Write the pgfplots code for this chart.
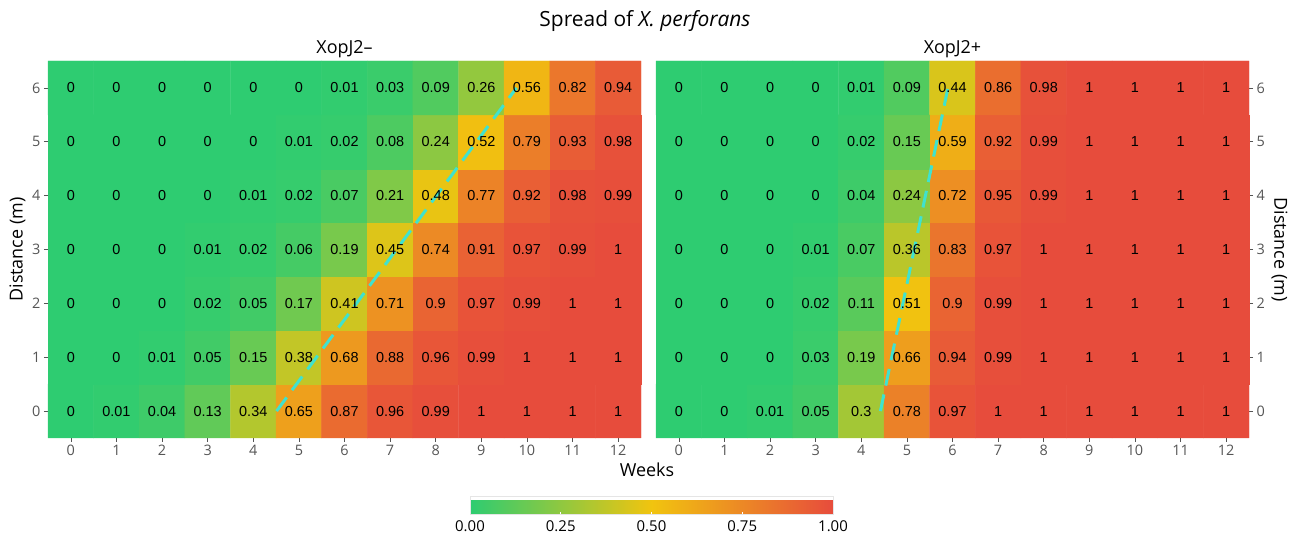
\documentclass[border=0pt]{standalone}
\usepackage{fontspec}
\setmainfont{Open Sans}
\newfontfamily\cellfont{Liberation Sans}
\usepackage{pgfplots}
\pgfplotsset{compat=1.18}
\usepackage{pgfplotstable}
\usetikzlibrary{calc}

\definecolor{tickgray}{RGB}{85,85,85}
\definecolor{trend}{RGB}{64,226,206}

% Proportion infected, XopJ2- strain (x = week, y = distance in m)
\pgfplotstableread[row sep=\\]{
x y v\\
0 0 0\\ 1 0 0.01\\ 2 0 0.04\\ 3 0 0.13\\ 4 0 0.34\\ 5 0 0.65\\ 6 0 0.87\\ 7 0 0.96\\ 8 0 0.99\\ 9 0 1\\ 10 0 1\\ 11 0 1\\ 12 0 1\\
0 1 0\\ 1 1 0\\ 2 1 0.01\\ 3 1 0.05\\ 4 1 0.15\\ 5 1 0.38\\ 6 1 0.68\\ 7 1 0.88\\ 8 1 0.96\\ 9 1 0.99\\ 10 1 1\\ 11 1 1\\ 12 1 1\\
0 2 0\\ 1 2 0\\ 2 2 0\\ 3 2 0.02\\ 4 2 0.05\\ 5 2 0.17\\ 6 2 0.41\\ 7 2 0.71\\ 8 2 0.9\\ 9 2 0.97\\ 10 2 0.99\\ 11 2 1\\ 12 2 1\\
0 3 0\\ 1 3 0\\ 2 3 0\\ 3 3 0.01\\ 4 3 0.02\\ 5 3 0.06\\ 6 3 0.19\\ 7 3 0.45\\ 8 3 0.74\\ 9 3 0.91\\ 10 3 0.97\\ 11 3 0.99\\ 12 3 1\\
0 4 0\\ 1 4 0\\ 2 4 0\\ 3 4 0\\ 4 4 0.01\\ 5 4 0.02\\ 6 4 0.07\\ 7 4 0.21\\ 8 4 0.48\\ 9 4 0.77\\ 10 4 0.92\\ 11 4 0.98\\ 12 4 0.99\\
0 5 0\\ 1 5 0\\ 2 5 0\\ 3 5 0\\ 4 5 0\\ 5 5 0.01\\ 6 5 0.02\\ 7 5 0.08\\ 8 5 0.24\\ 9 5 0.52\\ 10 5 0.79\\ 11 5 0.93\\ 12 5 0.98\\
0 6 0\\ 1 6 0\\ 2 6 0\\ 3 6 0\\ 4 6 0\\ 5 6 0\\ 6 6 0.01\\ 7 6 0.03\\ 8 6 0.09\\ 9 6 0.26\\ 10 6 0.56\\ 11 6 0.82\\ 12 6 0.94\\
}\minustable

% Proportion infected, XopJ2+ strain
\pgfplotstableread[row sep=\\]{
x y v\\
0 0 0\\ 1 0 0\\ 2 0 0.01\\ 3 0 0.05\\ 4 0 0.3\\ 5 0 0.78\\ 6 0 0.97\\ 7 0 1\\ 8 0 1\\ 9 0 1\\ 10 0 1\\ 11 0 1\\ 12 0 1\\
0 1 0\\ 1 1 0\\ 2 1 0\\ 3 1 0.03\\ 4 1 0.19\\ 5 1 0.66\\ 6 1 0.94\\ 7 1 0.99\\ 8 1 1\\ 9 1 1\\ 10 1 1\\ 11 1 1\\ 12 1 1\\
0 2 0\\ 1 2 0\\ 2 2 0\\ 3 2 0.02\\ 4 2 0.11\\ 5 2 0.51\\ 6 2 0.9\\ 7 2 0.99\\ 8 2 1\\ 9 2 1\\ 10 2 1\\ 11 2 1\\ 12 2 1\\
0 3 0\\ 1 3 0\\ 2 3 0\\ 3 3 0.01\\ 4 3 0.07\\ 5 3 0.36\\ 6 3 0.83\\ 7 3 0.97\\ 8 3 1\\ 9 3 1\\ 10 3 1\\ 11 3 1\\ 12 3 1\\
0 4 0\\ 1 4 0\\ 2 4 0\\ 3 4 0\\ 4 4 0.04\\ 5 4 0.24\\ 6 4 0.72\\ 7 4 0.95\\ 8 4 0.99\\ 9 4 1\\ 10 4 1\\ 11 4 1\\ 12 4 1\\
0 5 0\\ 1 5 0\\ 2 5 0\\ 3 5 0\\ 4 5 0.02\\ 5 5 0.15\\ 6 5 0.59\\ 7 5 0.92\\ 8 5 0.99\\ 9 5 1\\ 10 5 1\\ 11 5 1\\ 12 5 1\\
0 6 0\\ 1 6 0\\ 2 6 0\\ 3 6 0\\ 4 6 0.01\\ 5 6 0.09\\ 6 6 0.44\\ 7 6 0.86\\ 8 6 0.98\\ 9 6 1\\ 10 6 1\\ 11 6 1\\ 12 6 1\\
}\plustable

\pgfplotsset{
  /pgf/number format/assume math mode=true,
  heatpanel/.style={
    scale only axis, width=593bp, height=377bp,
    xmin=-0.5, xmax=12.5, ymin=-0.5, ymax=6.5,
    xtick={0,...,12}, ytick={0,...,6},
    axis line style={draw=none},
    tick style={tickgray, line width=0.6bp},
    major tick length=4bp, tick align=outside,
    xtick pos=lower,
    ticklabel style={font=\fontsize{14.5}{14.5}\selectfont, text=tickgray},
    colormap={flatui}{rgb255=(46,204,113) rgb255=(241,196,15) rgb255=(231,76,60)},
    point meta min=0, point meta max=1,
    title style={font=\fontsize{18}{18}\selectfont, inner sep=0pt, at={(0.5,1)}, anchor=south, yshift=-3bp},
    clip=false,
  },
  valuelabels/.style={only marks, mark=none, point meta=explicit symbolic,
    nodes near coords,
    nodes near coords style={font=\cellfont\fontsize{14.5}{14.5}\selectfont, anchor=center, text=black}},
  spreadfront/.style={trend, line width=3bp, dash pattern=on 17bp off 9bp},
}

\begin{document}
\begin{tikzpicture}
\useasboundingbox (0,0) rectangle (1290bp,540bp);

\node[font=\fontsize{21}{21}\selectfont, anchor=base] at (645bp,513bp) {Spread of \textit{X. perforans}};
\node[font=\fontsize{18}{18}\selectfont, anchor=base] at (647bp,63bp) {Weeks};

\begin{axis}[heatpanel, at={(48bp,102bp)}, anchor=south west,
  title={XopJ2–}, ylabel={Distance (m)}, ytick pos=left,
  ylabel style={font=\fontsize{18}{18}\selectfont}]
  \addplot[matrix plot*, mesh/cols=13, point meta=explicit] table[x=x, y=y, meta=v] {\minustable};
  \addplot[spreadfront] coordinates {(4.51,0) (9.77,6)};
  \addplot[valuelabels] table[x=x, y=y, meta=v] {\minustable};
\end{axis}

\begin{axis}[heatpanel, at={(656bp,102bp)}, anchor=south west,
  title={XopJ2+}, ylabel={Distance (m)}, ytick pos=right, yticklabel pos=right,
  ylabel near ticks,
  ylabel style={font=\fontsize{18}{18}\selectfont, rotate=180},
  colorbar horizontal,
  colorbar style={
    at={($(parent axis.south west)+(-186bp,-50bp)$)}, anchor=north west,
    scale only axis, width=363bp, height=18bp,
    xtick={0,0.25,0.5,0.75,1}, xticklabels={0.00,0.25,0.50,0.75,1.00},
    xticklabel style={font=\fontsize{15}{15}\selectfont, text=black, yshift=-3bp},
    xtick style={white, line width=0.8bp}, major tick length=3bp, tick align=inside,
    xtick pos=both, xticklabel pos=lower,
    axis line style={draw=white!80!gray, line width=0.5bp},
  }]
  \addplot[matrix plot*, mesh/cols=13, point meta=explicit] table[x=x, y=y, meta=v] {\plustable};
  \addplot[spreadfront] coordinates {(4.42,0) (5.9,6)};
  \addplot[valuelabels] table[x=x, y=y, meta=v] {\plustable};
\end{axis}
\end{tikzpicture}
\end{document}
